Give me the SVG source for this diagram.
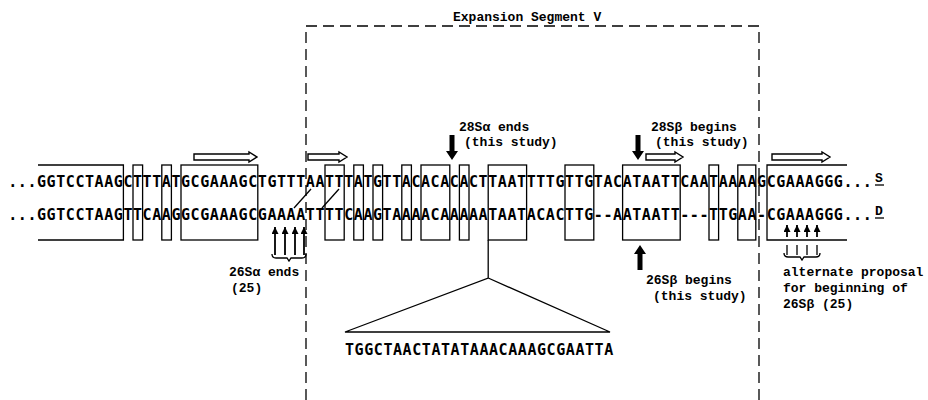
<svg xmlns="http://www.w3.org/2000/svg" width="928" height="400" viewBox="0 0 928 400">
<style>
.seq{font-family:"DejaVu Sans Mono","Liberation Mono",monospace;font-weight:bold;font-size:15px;letter-spacing:0.57px;fill:#000}
.lbl{font-family:"Liberation Mono","DejaVu Sans Mono",monospace;font-weight:bold;font-size:13px;fill:#000}
.box{fill:none;stroke:#000;stroke-width:1.3}
.dash{fill:none;stroke:#000;stroke-width:1.3;stroke-dasharray:11 6}
.oarr{fill:#fff;stroke:#000;stroke-width:1.4}
.ln{stroke:#000;stroke-width:1.3;fill:none}
.thin{stroke:#000;stroke-width:1.8;fill:none;marker-end:url(#ah)}
.thick{fill:#000;stroke:none}
</style>
<defs>
<marker id="ah" markerUnits="userSpaceOnUse" markerWidth="8" markerHeight="8" refX="7" refY="3.5" orient="auto">
<path d="M0,0 L7,3.5 L0,7 Z" fill="#000"/>
</marker>
<path id="thickDown" d="M-2.5,0 H2.5 V16 H6 L0,25 L-6,16 H-2.5 Z"/>
</defs>

<g id="expansion-segment">
<path class="dash" d="M306,400 V26 H759 V400"/>
<text class="lbl" x="453" y="21">Expansion Segment V</text>
</g>

<g id="sequence-S">
<text class="seq" x="8.2" y="187">...GGTCCTAAGCTTTATGCGAAAGCTGTTTAATTTATGTTACACACACTTAATTTTGTTGTACATAATTCAATAAAAGCGAAAGGG...</text>
<text class="lbl" x="875" y="182">S</text>
<line class="ln" x1="875" y1="185" x2="884" y2="185"/>
</g>
<g id="sequence-D">
<text class="seq" x="8.2" y="220">...GGTCCTAAGTTCAAGGCGAAAGCGAAAATTTTCAAGTAAAACAAAAATAATACACTTG--AATAATT---TTGAA-CGAAAGGG...</text>
<text class="lbl" x="875" y="215">D</text>
<line class="ln" x1="875" y1="218" x2="884" y2="218"/>
</g>

<g id="homology-boxes">
<path class="box" d="M38,165 H123.4 V240 H38"/>
<rect class="box" x="133" y="165" width="9.6" height="75"/>
<rect class="box" x="161.8" y="165" width="9.6" height="75"/>
<rect class="box" x="181" y="165" width="76.8" height="75"/>
<rect class="box" x="325" y="165" width="19.2" height="75"/>
<rect class="box" x="353.8" y="165" width="9.6" height="75"/>
<rect class="box" x="373" y="165" width="9.6" height="75"/>
<rect class="box" x="401.8" y="165" width="9.6" height="75"/>
<rect class="box" x="421" y="165" width="28.8" height="75"/>
<rect class="box" x="459.4" y="165" width="9.6" height="75"/>
<rect class="box" x="488.2" y="165" width="38.4" height="75"/>
<rect class="box" x="565" y="165" width="28.8" height="75"/>
<rect class="box" x="622.6" y="165" width="57.6" height="75"/>
<rect class="box" x="709" y="165" width="9.6" height="75"/>
<rect class="box" x="737.8" y="165" width="18" height="75"/>
<path class="box" d="M847,165 H767 V240 H847"/>
</g>

<g id="repeat-arrows">
<path class="oarr" d="M194,154 H249 V152 L257,157 L249,162 V160 H194 Z"/>
<path class="oarr" d="M308,154 H339 V152 L347,157 L339,162 V160 H308 Z"/>
<path class="oarr" d="M646,154 H675 V152 L683,157 L675,162 V160 H646 Z"/>
<path class="oarr" d="M772,154 H822 V152 L830,157 L822,162 V160 H772 Z"/>
</g>

<g id="label-28Sa">
<text class="lbl" x="459" y="131">28Sα ends</text>
<text class="lbl" x="464" y="146">(this study)</text>
</g>
<g id="label-28Sb">
<text class="lbl" x="651" y="131">28Sβ begins</text>
<text class="lbl" x="655" y="146">(this study)</text>
</g>
<g id="label-26Sa">
<text class="lbl" x="229" y="276">26Sα ends</text>
<text class="lbl" x="231" y="292">(25)</text>
</g>
<g id="label-26Sb">
<text class="lbl" x="646" y="284">26Sβ begins</text>
<text class="lbl" x="653" y="300">(this study)</text>
</g>
<g id="label-alternate">
<text class="lbl" x="783" y="276">alternate proposal</text>
<text class="lbl" x="783" y="292">for beginning of</text>
<text class="lbl" x="783" y="308">26Sβ (25)</text>
</g>
<g id="insertion">
<text class="seq" x="345" y="355">TGGCTAACTATATAAACAAAGCGAATTA</text>
</g>

<g id="connectors">
<use href="#thickDown" class="thick" transform="translate(452,135)"/>
<use href="#thickDown" class="thick" transform="translate(638,135)"/>
<use href="#thickDown" class="thick" transform="translate(640,270) scale(1,-1)"/>
<line class="ln" x1="311" y1="189" x2="294" y2="208"/>
<line class="ln" x1="339" y1="189" x2="322" y2="208"/>
<line class="thin" x1="275" y1="255" x2="275" y2="227"/>
<line class="thin" x1="285" y1="255" x2="285" y2="227"/>
<line class="thin" x1="295" y1="255" x2="295" y2="227"/>
<line class="thin" x1="304" y1="255" x2="304" y2="227"/>
<path class="ln" d="M272,254 Q272,258 276,258 H287 L289,261 L291,258 H302 Q306,258 306,254"/>
<line class="thin" x1="787" y1="237" x2="787" y2="225"/>
<line class="thin" x1="797" y1="237" x2="797" y2="225"/>
<line class="thin" x1="807" y1="237" x2="807" y2="225"/>
<line class="thin" x1="817" y1="237" x2="817" y2="225"/>
<path class="ln" d="M787,245 V255 M797,245 V255 M807,245 V255 M817,245 V255"/>
<path class="ln" d="M784,253 Q784,257 788,257 H800 L802,260 L804,257 H816 Q820,257 820,253"/>
<path class="ln" d="M488.2,240 V278 L345,332 H610 L488.2,278"/>
</g>
</svg>
